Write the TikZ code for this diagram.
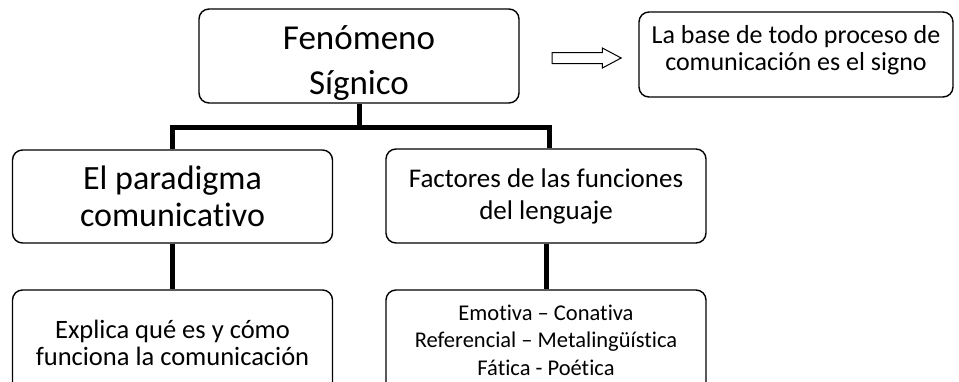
\documentclass[tikz,border=0pt]{standalone}
\usepackage{fontspec}
\setmainfont{Carlito}[Ligatures=NoCommon]
\usetikzlibrary{positioning, shapes.arrows}

\begin{document}
\begin{tikzpicture}[x=1pt, y=-1pt,
    box/.style={draw, line width=1.4pt, rounded corners=10pt, align=center,
                inner sep=0pt, minimum width=320pt},
    link/.style={line width=5pt}]
  \useasboundingbox (0,0) rectangle (959,381);
  \clip (0,0) rectangle (959,381);

  \node [box, minimum height=94pt, text height=76pt, text depth=0pt, font=\fontsize{35}{45}\selectfont] (sig) at (359,56)
    {Fenómeno\\Sígnico};
  \node [box, minimum width=314pt, minimum height=85pt, text depth=14pt, font=\fontsize{26}{27}\selectfont] (base) at (796,54.5)
    {La base de todo proceso de\\comunicación es el signo};

  \node [single arrow, draw, line width=1pt, minimum height=69pt, inner sep=5pt,
         single arrow head extend=4.5pt, single arrow tip angle=56] (arr) at (581.5,58) {};

  \node [box, minimum height=93pt, font=\fontsize{34}{37}\selectfont] (para) at (172.5,196.5)
    {El paradigma\\comunicativo};
  \node [box, minimum height=94pt, font=\fontsize{27}{32}\selectfont] (fact) at (546,196)
    {Factores de las funciones\\del lenguaje};

  \node [box, minimum height=105pt, font=\fontsize{26.5}{27}\selectfont] (expl) at (172.5,342.5)
    {Explica qué es y cómo\\funciona la comunicación};
  \node [box, minimum height=105pt, text depth=5pt, font=\fontsize{22.5}{27.5}\selectfont] (func) at (546,342.5)
    {Emotiva – Conativa\\Referencial – Metalingüística\\Fática - Poética};

  \coordinate (bus) at (359,127);
  \draw [link] (sig) -- (bus) -| (para);
  \draw [link] (bus) -| ([xshift=3pt]fact.north);
  \draw [link] (para) -- (expl);
  \draw [link] (fact) -- (func);
\end{tikzpicture}
\end{document}
